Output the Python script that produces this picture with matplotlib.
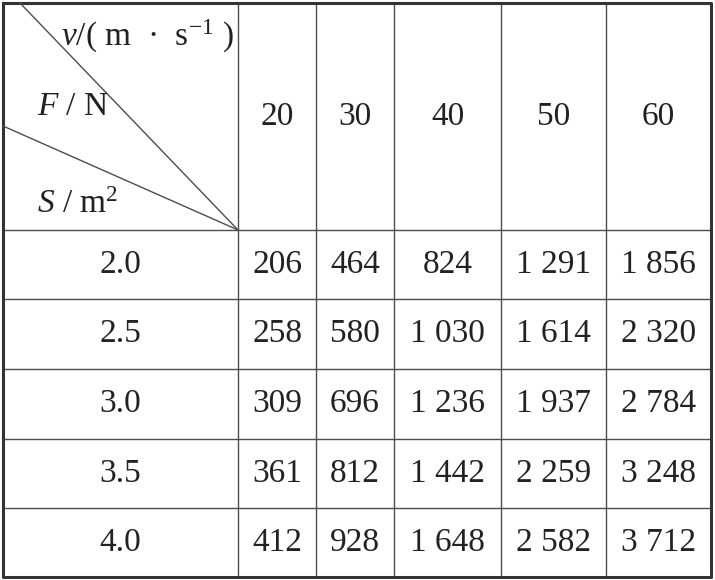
import matplotlib
matplotlib.use('Agg')
import matplotlib.pyplot as plt

plt.rcParams['font.family'] = ['Liberation Serif', 'DejaVu Serif']
plt.rcParams['mathtext.fontset'] = 'custom'
plt.rcParams['mathtext.rm'] = 'Liberation Serif'
plt.rcParams['mathtext.it'] = 'Liberation Serif:italic'

# table data
speeds = [20, 30, 40, 50, 60]
areas = ['2.0', '2.5', '3.0', '3.5', '4.0']
force_20 = [206, 258, 309, 361, 412]
force_30 = [464, 580, 696, 812, 928]
force_40 = [824, 1030, 1236, 1442, 1648]
force_50 = [1291, 1614, 1937, 2259, 2582]
force_60 = [1856, 2320, 2784, 3248, 3712]
columns = [force_20, force_30, force_40, force_50, force_60]

W, H = 715, 580
col_edges = [3, 238, 316, 394, 501, 606, 711]
row_edges = [3, 230, 299, 369, 439, 508, 577]

fig = plt.figure(figsize=(W / 100, H / 100), dpi=100)
ax = fig.add_axes([0, 0, 1, 1])
ax.set_xlim(0, W)
ax.set_ylim(H, 0)
ax.axis('off')

LINE = '#4d4d4d'
TXT = '#222222'
FS = 24


def fmt(v):
    return f'{v:,}'.replace(',', ' ')


# inner grid
for x in col_edges[1:-1]:
    ax.plot([x, x], [row_edges[0], row_edges[-1]], color=LINE, lw=1.0)
for y in row_edges[1:-1]:
    ax.plot([col_edges[0], col_edges[-1]], [y, y], color=LINE, lw=1.0)
# outer border
ax.plot([col_edges[0], col_edges[-1], col_edges[-1], col_edges[0], col_edges[0]],
        [row_edges[0], row_edges[0], row_edges[-1], row_edges[-1], row_edges[0]],
        color='#333333', lw=2.2)

# diagonal header lines
cx, cy = col_edges[1], row_edges[1]
ax.plot([20, cx], [row_edges[0], cy], color=LINE, lw=1.0)
ax.plot([col_edges[0], cx], [126, cy], color=LINE, lw=1.0)

ax.text(234, 36, r'$v$/( m  ·  s$^{-1}$ )', ha='right', va='center', fontsize=FS, color=TXT)
ax.text(37, 107, r'$F$ / N', ha='left', va='center', fontsize=FS, color=TXT)
ax.text(37, 205, r'$S$ / m$^{2}$', ha='left', va='center', fontsize=FS, color=TXT)

# header numbers
hy = (row_edges[0] + row_edges[1]) / 2
for j, v in enumerate(speeds):
    xc = (col_edges[j + 1] + col_edges[j + 2]) / 2
    ax.text(xc, hy, str(v), ha='center', va='center', fontsize=FS, color=TXT)

# body
for i, s in enumerate(areas):
    yc = (row_edges[i + 1] + row_edges[i + 2]) / 2
    ax.text((col_edges[0] + col_edges[1]) / 2, yc, s, ha='center', va='center',
            fontsize=FS, color=TXT)
    for j, col in enumerate(columns):
        xc = (col_edges[j + 1] + col_edges[j + 2]) / 2
        ax.text(xc, yc, fmt(col[i]), ha='center', va='center', fontsize=FS, color=TXT)

fig.savefig('out.png', dpi=100, facecolor='white')
